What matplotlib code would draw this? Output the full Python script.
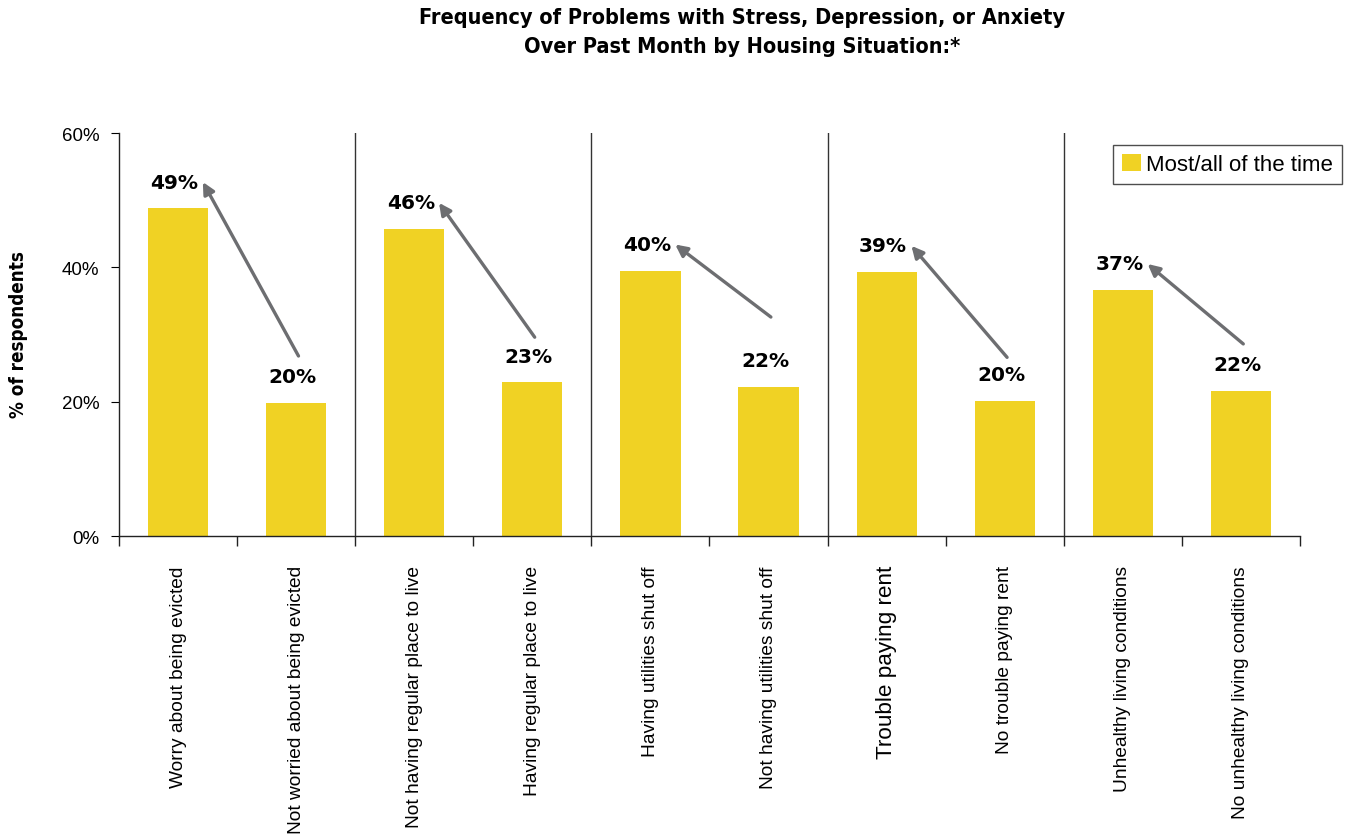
import matplotlib
matplotlib.use("Agg")
import matplotlib.pyplot as plt
from matplotlib.patches import Patch
from matplotlib.ticker import FixedLocator, PercentFormatter

categories = [
    "Worry about being evicted",
    "Not worried about being evicted",
    "Not having regular place to live",
    "Having regular place to live",
    "Having utilities shut off",
    "Not having utilities shut off",
    "Trouble paying rent",
    "No trouble paying rent",
    "Unhealthy living conditions",
    "No unhealthy living conditions",
]
values = [48.8, 19.8, 45.7, 22.9, 39.5, 22.2, 39.3, 20.1, 36.6, 21.6]
value_labels = ["49%", "20%", "46%", "23%", "40%", "22%", "39%", "20%", "37%", "22%"]
y_ticks = [0, 20, 40, 60]
legend_label = "Most/all of the time"
title = "Frequency of Problems with Stress, Depression, or Anxiety\nOver Past Month by Housing Situation:*"
ylabel = "% of respondents"

BAR = "#F0D224"
ARROW = "#6D6E71"
SANS = ["Liberation Sans", "DejaVu Sans"]
arrow_start_offset = [7.0, 6.7, 10.4, 6.5, 7.0]

fig = plt.figure(figsize=(13.46, 8.37), dpi=100)
ax = fig.add_axes([0.0884, 0.3584, 0.8774, 0.4815])

x = list(range(len(categories)))
ax.bar(x, values, width=0.51, color=BAR, zorder=2)

ax.set_xlim(-0.5, len(categories) - 0.5)
ax.set_ylim(0, 60)
ax.yaxis.set_major_locator(FixedLocator(y_ticks))
ax.yaxis.set_major_formatter(PercentFormatter(decimals=0))
ax.tick_params(axis="y", direction="out", length=6, labelsize=13.5, pad=8)
for lbl in ax.get_yticklabels():
    lbl.set_family(SANS)

for s in ["top", "right"]:
    ax.spines[s].set_visible(False)
for s in ["left", "bottom"]:
    ax.spines[s].set_linewidth(1.0)
    ax.spines[s].set_color("#222222")

ax.set_xticks(x)
ax.set_xticklabels(categories, rotation=90, ha="center", va="top", fontsize=13.8,
                   family=SANS)
for lbl in ax.get_xticklabels():
    if lbl.get_text() == "Trouble paying rent":
        lbl.set_fontsize(16.2)
ax.tick_params(axis="x", which="major", length=0, pad=21)
bounds = [i - 0.5 for i in range(len(categories) + 1)]
ax.xaxis.set_minor_locator(FixedLocator(bounds))
ax.tick_params(axis="x", which="minor", direction="out", length=7, width=1, color="#222222")

for b in bounds[2:-1:2]:
    ax.plot([b, b], [0, 60], color="#333333", lw=1, zorder=1)

for i, (v, t) in enumerate(zip(values, value_labels)):
    ax.text(i - 0.03, v + 3.9, t, ha="center", va="center", fontsize=14.5,
            fontweight="bold", family="DejaVu Sans", zorder=3)

for k in range(0, len(values), 2):
    hi, lo = values[k], values[k + 1]
    ax.annotate("", xy=(k + 0.21, hi + 3.9), xytext=(k + 1.02, lo + arrow_start_offset[k // 2]),
                arrowprops=dict(arrowstyle="-|>,head_length=0.7,head_width=0.35",
                                color=ARROW, lw=2.4, shrinkA=0, shrinkB=0), zorder=3)

fig.text(0.0134, 0.60, ylabel, rotation=90, ha="center", va="center",
         fontsize=13.5, fontweight="bold", fontstretch="condensed")
fig.text(0.551, 0.961, title, ha="center", va="center", fontsize=15.6,
         fontweight="bold", linespacing=1.55, fontstretch="condensed")

leg = fig.legend(handles=[Patch(facecolor=BAR, edgecolor="none", label=legend_label)],
                 loc="upper right", bbox_to_anchor=(0.997, 0.826),
                 prop={"family": SANS, "size": 16},
                 frameon=True, fancybox=False, edgecolor="#222222",
                 handlelength=0.85, handleheight=0.85, handletextpad=0.25,
                 borderpad=0.4, borderaxespad=0)
leg.get_frame().set_linewidth(1.0)

fig.savefig("out.png", dpi=100)
